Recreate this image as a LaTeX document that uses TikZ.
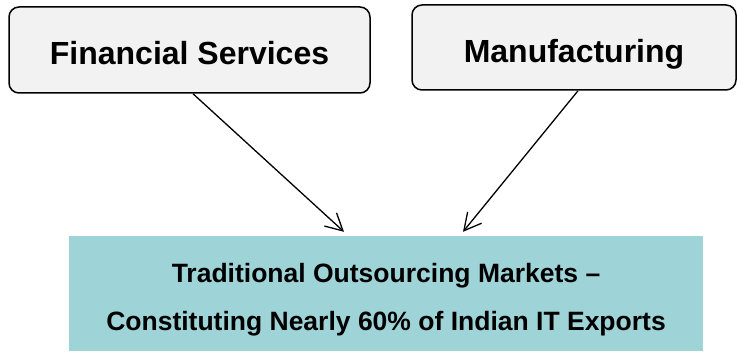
\documentclass[tikz,border=0pt]{standalone}
\usepackage{fontspec}
\setmainfont{Liberation Sans}
\usetikzlibrary{arrows.meta}
\definecolor{boxgray}{HTML}{F2F2F2}
\definecolor{marketteal}{HTML}{9ED3D7}
\begin{document}
\begin{tikzpicture}[x=1pt,y=1pt,
  sector/.style={draw=black, line width=1.5pt, fill=boxgray, rounded corners=10pt,
    font=\fontsize{32}{36}\selectfont\bfseries, text height=30pt, text depth=0pt,
    inner sep=0pt},
  market/.style={fill=marketteal, inner sep=0pt},
  markettext/.style={font=\fontsize{26.5}{30}\selectfont\bfseries, anchor=base, inner sep=0pt},
  feed/.style={line width=1.3pt, -{Straight Barb[length=17pt,width=18pt]}}]
\useasboundingbox (0,0) rectangle (738,351);
% source sectors
\node[sector, minimum width=361pt, minimum height=86pt] (fin) at (189.5,301) {Financial Services};
\node[sector, minimum width=324pt, minimum height=85pt] (mfg) at (574,303.5) {Manufacturing};
% target market block
\node[market, minimum width=634pt, minimum height=115pt] (out) at (386,57.5) {};
\node[markettext] (outA) at (386,69) {Traditional Outsourcing Markets --};
\node[markettext] (outB) at (386,21) {Constituting Nearly 60\% of Indian IT Exports};
% connectors
\draw[feed] ([xshift=3.5pt]fin.south) -- ([xshift=-42pt,yshift=4pt]out.north);
\draw[feed] ([xshift=4pt]mfg.south) -- ([xshift=77pt,yshift=4pt]out.north);
\end{tikzpicture}
\end{document}
